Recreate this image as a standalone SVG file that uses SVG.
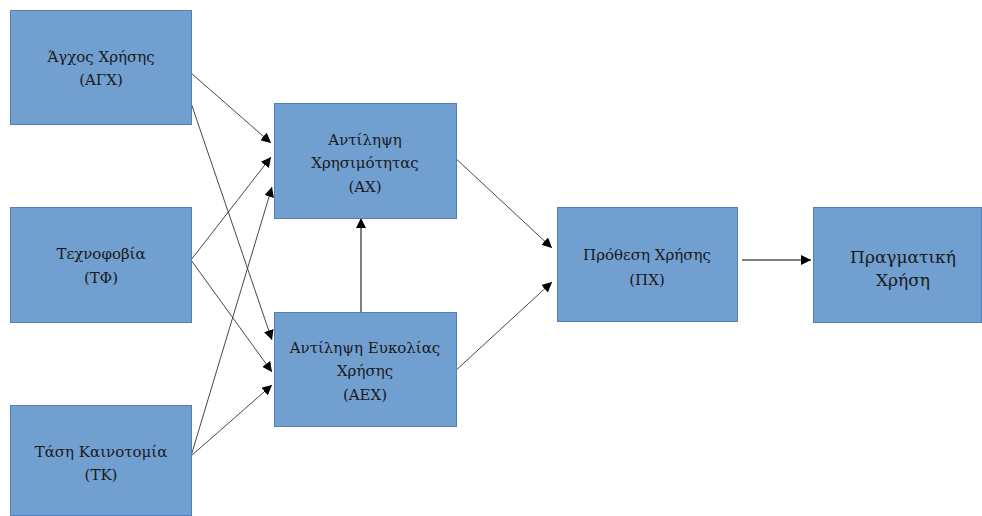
<svg xmlns="http://www.w3.org/2000/svg" width="982" height="516" viewBox="0 0 982 516">
<style>
.box{fill:#719fd0;stroke:#4f7fbf;stroke-width:1}
.t{font-family:"DejaVu Serif","Liberation Serif",serif;font-size:15px;fill:#1a1a1a;text-anchor:middle}
.t2{font-family:"DejaVu Serif","Liberation Serif",serif;font-size:17px;fill:#1a1a1a;text-anchor:middle}
.c{stroke:#333;stroke-width:0.9;fill:none;marker-end:url(#ah)}
.cv{stroke:#555;stroke-width:1.5;fill:none;marker-end:url(#ah)}
</style>
<defs>
<marker id="ah" viewBox="0 0 10 10" refX="10" refY="5" markerWidth="10" markerHeight="10" markerUnits="userSpaceOnUse" orient="auto">
<path d="M0,0 L10,5 L0,10 z" fill="#000"/>
</marker>
</defs>
<rect width="982" height="516" fill="#fff"/>
<g id="connectors">
<line class="c" x1="191" y1="73" x2="271" y2="143"/>
<line class="c" x1="191" y1="103" x2="272" y2="340"/>
<line class="c" x1="191" y1="260" x2="271" y2="157"/>
<line class="c" x1="191" y1="260" x2="272" y2="372"/>
<line class="c" x1="191" y1="456" x2="272" y2="187"/>
<line class="c" x1="191" y1="456" x2="272" y2="385"/>
<line class="c" x1="452" y1="155" x2="552" y2="248"/>
<line class="c" x1="453" y1="373" x2="552" y2="282"/>
<line class="cv" x1="361" y1="312" x2="361" y2="218"/>
<line class="cv" x1="742" y1="260" x2="811" y2="260"/>
</g>
<g id="agx">
<rect class="box" x="10.5" y="10.5" width="181" height="114"/>
<text class="t" x="101" y="62">Άγχος Χρήσης</text>
<text class="t" x="101" y="85">(ΑΓΧ)</text>
</g>
<g id="tf">
<rect class="box" x="10.5" y="207.5" width="181" height="115"/>
<text class="t" x="101" y="259">Τεχνοφοβία</text>
<text class="t" x="101" y="283">(ΤΦ)</text>
</g>
<g id="tk">
<rect class="box" x="10.5" y="405.5" width="181" height="110"/>
<text class="t" x="101" y="457">Τάση Καινοτομία</text>
<text class="t" x="101" y="480">(ΤΚ)</text>
</g>
<g id="ax">
<rect class="box" x="274.5" y="103.5" width="182" height="115"/>
<text class="t" x="365" y="145">Αντίληψη</text>
<text class="t" x="365" y="168">Χρησιμότητας</text>
<text class="t" x="365" y="192">(ΑΧ)</text>
</g>
<g id="aex">
<rect class="box" x="274.5" y="312.5" width="182" height="114"/>
<text class="t" x="365" y="353">Αντίληψη Ευκολίας</text>
<text class="t" x="365" y="376">Χρήσης</text>
<text class="t" x="365" y="400">(ΑΕΧ)</text>
</g>
<g id="px">
<rect class="box" x="557.5" y="207.5" width="180" height="114"/>
<text class="t" x="647" y="260">Πρόθεση Χρήσης</text>
<text class="t" x="647" y="285">(ΠΧ)</text>
</g>
<g id="pragmatiki">
<rect class="box" x="813.5" y="207.5" width="168" height="115"/>
<text class="t2" x="903" y="263">Πραγματική</text>
<text class="t2" x="903" y="286">Χρήση</text>
</g>
</svg>
